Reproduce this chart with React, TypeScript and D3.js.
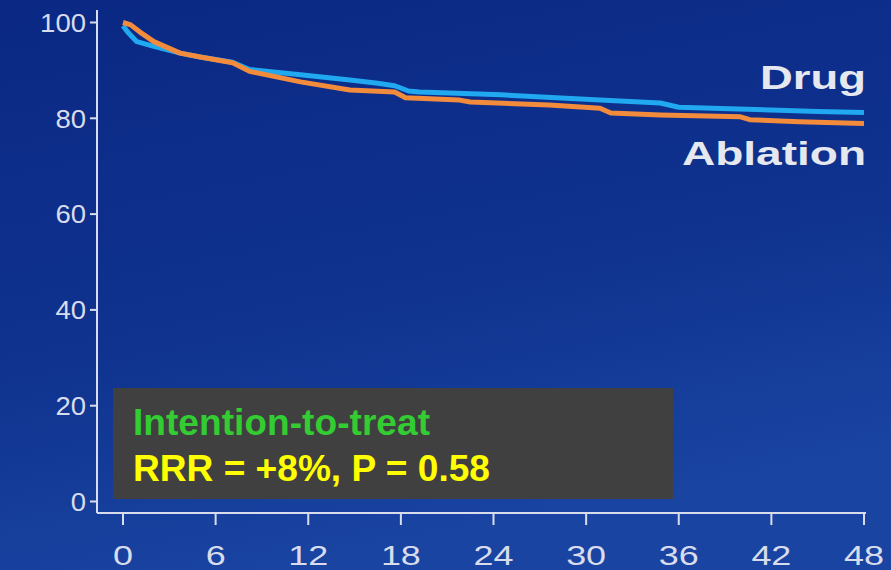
import React from "react";
import * as d3 from "d3";

const W = 891;
const H = 570;

const xTicks = [0, 6, 12, 18, 24, 30, 36, 42, 48];
const yTicks = [0, 20, 40, 60, 80, 100];

const drugMonths = [0, 0.3, 0.9, 2.0, 3.7, 5.0, 7.1, 8.2, 11.5, 14.7, 16.5, 17.6, 18.5, 19.2, 24.5, 30.9, 34.8, 36.0, 42.5, 45, 48];
const drugValues = [99.3, 98, 96, 95, 93.6, 92.8, 91.7, 90.2, 89.1, 88, 87.3, 86.8, 85.7, 85.5, 84.9, 83.8, 83.2, 82.3, 81.7, 81.4, 81.2];

const ablationMonths = [0, 0.5, 1.1, 2.0, 3.7, 5.0, 7.1, 8.2, 11.5, 14.7, 17.6, 18.3, 21.8, 22.5, 27.6, 30.9, 31.6, 34.8, 40.0, 40.6, 43.8, 48];
const ablationValues = [100, 99.5, 98, 96, 93.6, 92.8, 91.6, 89.8, 87.6, 85.9, 85.5, 84.3, 83.8, 83.4, 82.8, 82.1, 81.1, 80.7, 80.3, 79.7, 79.3, 78.9];

const seriesNames = ["Drug", "Ablation"];
const noteLines = ["Intention-to-treat", "RRR = +8%, P = 0.58"];

export default function App() {
  const x = d3.scaleLinear().domain([0, 48]).range([123, 864]);
  const y = d3.scaleLinear().domain([0, 100]).range([501.5, 22.5]);

  const line = d3
    .line<[number, number]>()
    .x((d) => x(d[0]))
    .y((d) => y(d[1]))
    .curve(d3.curveLinear);

  const drug = drugMonths.map((m, i) => [m, drugValues[i]] as [number, number]);
  const abl = ablationMonths.map((m, i) => [m, ablationValues[i]] as [number, number]);

  const axisColor = "#d8dcec";
  const font = "'Liberation Sans', Arial, sans-serif";

  return (
    <svg
      width={W}
      height={H}
      style={{ position: "absolute", left: 0, top: 0, display: "block" }}
      fontFamily={font}
    >
      <defs>
        <linearGradient id="bg" x1="0" y1="0" x2="0.3" y2="1">
          <stop offset="0%" stopColor="#0a2884" />
          <stop offset="60%" stopColor="#0f338f" />
          <stop offset="100%" stopColor="#1a44a2" />
        </linearGradient>
      </defs>
      <rect x={0} y={0} width={W} height={H} fill="url(#bg)" />

      {/* axes */}
      <line x1={97} y1={10} x2={97} y2={513} stroke={axisColor} strokeWidth={2} />
      <line x1={97} y1={513} x2={866} y2={513} stroke={axisColor} strokeWidth={2} />
      {yTicks.map((t) => (
        <g key={"y" + t}>
          <line x1={90} x2={97} y1={y(t)} y2={y(t)} stroke={axisColor} strokeWidth={2} />
          <text
            x={86}
            y={y(t)}
            dy="0.36em"
            textAnchor="end"
            fill={axisColor}
            fontSize={26}
            textLength={String(t).length * 15.3}
            lengthAdjust="spacingAndGlyphs"
          >
            {t}
          </text>
        </g>
      ))}
      {xTicks.map((t) => (
        <g key={"x" + t}>
          <line x1={x(t)} x2={x(t)} y1={513} y2={525} stroke={axisColor} strokeWidth={2} />
          <text
            x={x(t)}
            y={565}
            textAnchor="middle"
            fill={axisColor}
            fontSize={28}
            textLength={String(t).length * 20}
            lengthAdjust="spacingAndGlyphs"
          >
            {t}
          </text>
        </g>
      ))}

      {/* curves */}
      <path d={line(drug) || ""} fill="none" stroke="#20a8f0" strokeWidth={5} strokeLinejoin="round" />
      <path d={line(abl) || ""} fill="none" stroke="#f28c3c" strokeWidth={5} strokeLinejoin="round" />

      {/* series labels */}
      <text x={866} y={89} textAnchor="end" fill="#e6e8f0" fontSize={34} fontWeight="bold" textLength={106} lengthAdjust="spacingAndGlyphs">
        {seriesNames[0]}
      </text>
      <text x={866} y={165} textAnchor="end" fill="#e6e8f0" fontSize={34} fontWeight="bold" textLength={184} lengthAdjust="spacingAndGlyphs">
        {seriesNames[1]}
      </text>

      {/* annotation box */}
      <rect x={113} y={388} width={560} height={111} fill="#404040" />
      <text x={133} y={435} fill="#33cc33" fontSize={36} fontWeight="bold" textLength={297} lengthAdjust="spacingAndGlyphs">
        {noteLines[0]}
      </text>
      <text x={133} y={481} fill="#ffff00" fontSize={36} fontWeight="bold" textLength={357} lengthAdjust="spacingAndGlyphs">
        {noteLines[1]}
      </text>
    </svg>
  );
}
